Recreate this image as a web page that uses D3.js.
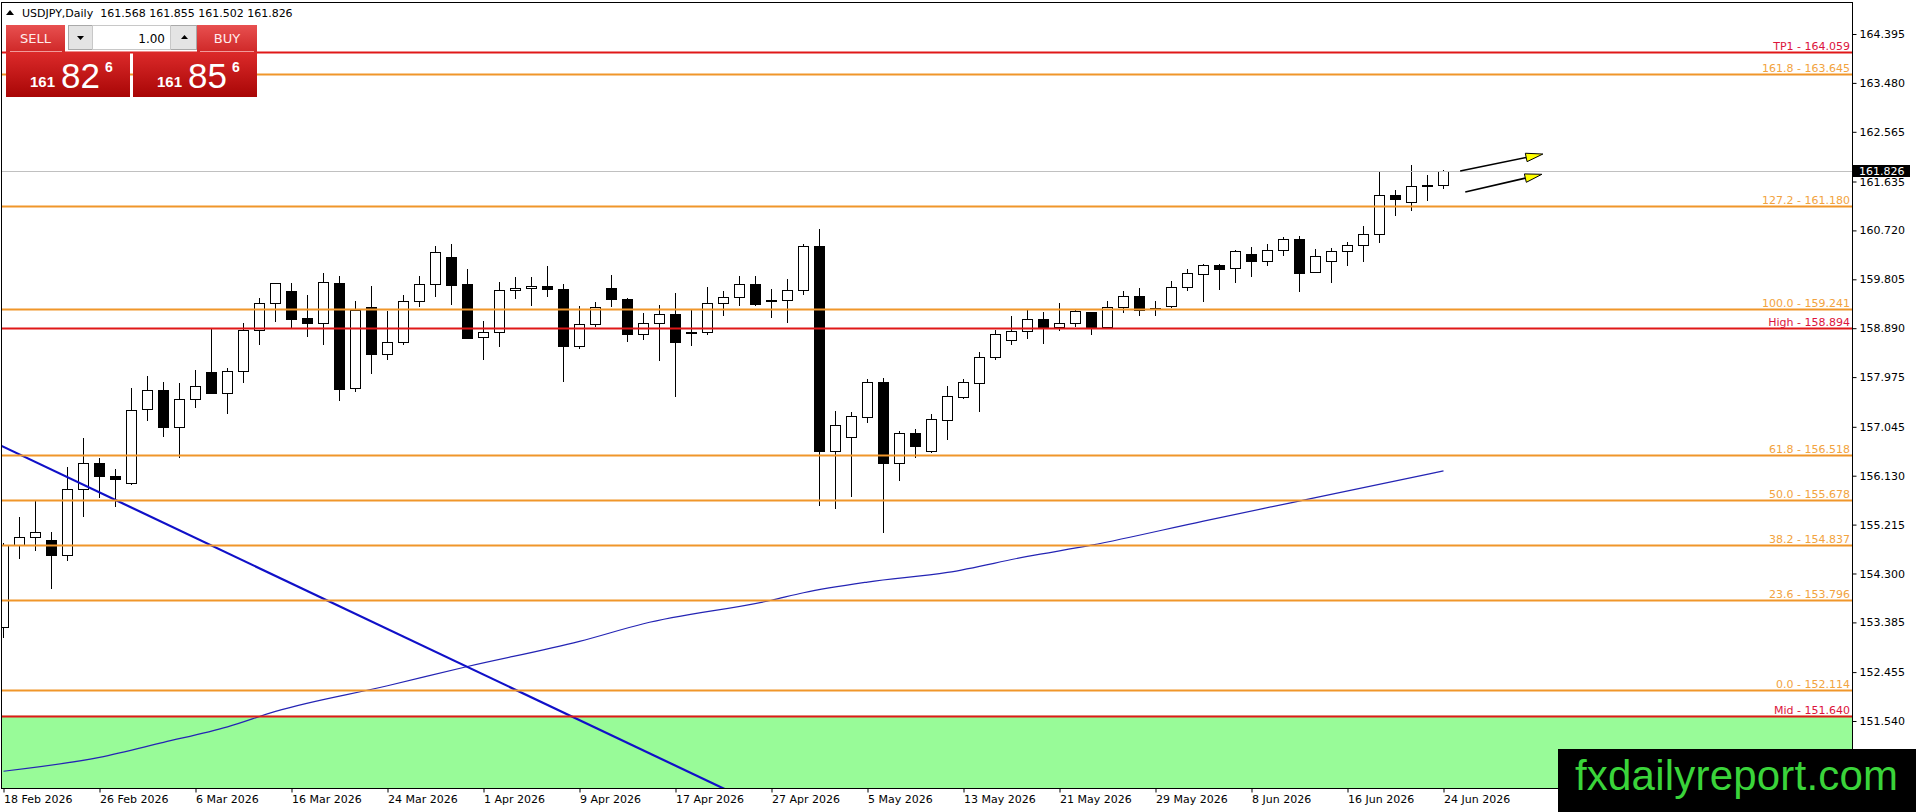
<!DOCTYPE html>
<html>
<head>
<meta charset="utf-8">
<script src="https://cdn.jsdelivr.net/npm/d3@7"></script>
<style>
  body{margin:0;background:#fff;}
  svg{display:block;font-family:"DejaVu Sans",sans-serif;}
</style>
</head>
<body>
<svg id="chart" width="1916" height="812"></svg>
<script>
/*
  USDJPY daily candles, 18 Feb - 24 Jun 2026
*/
var opens  = [153.29,154.83,154.99,154.93,154.65,155.89,156.36,156.13,156.00,157.37,157.73,157.05,157.56,158.07,157.67,158.08,158.85,159.36,159.59,159.08,
              158.98,159.74,157.78,159.28,158.40,158.64,159.39,159.71,160.22,159.72,158.72,158.81,159.60,159.64,159.68,159.62,158.56,158.96,159.65,159.43,
              158.78,158.98,159.15,158.81,158.81,159.37,159.47,159.71,159.42,159.42,159.60,160.43,156.60,156.86,157.23,157.88,156.37,156.92,156.60,157.18,
              157.61,157.86,158.36,158.66,158.83,159.07,158.92,158.98,159.19,158.92,159.29,159.50,159.27,159.30,159.66,159.90,160.07,160.01,160.28,160.15,
              160.35,160.56,159.94,160.14,160.33,160.44,160.65,161.38,161.26,161.56,161.568];
var highs  = [154.87,155.35,155.66,155.07,156.29,156.84,156.46,156.25,157.77,158.00,157.88,157.86,158.11,158.87,158.14,158.99,159.45,159.74,159.74,159.51,
              159.93,159.87,159.40,159.68,159.22,159.51,159.87,160.43,160.47,160.00,159.03,159.75,159.84,159.84,160.05,159.72,159.31,159.38,159.89,159.45,
              159.17,159.32,159.54,159.23,159.66,159.59,159.87,159.87,159.62,159.81,160.47,160.75,157.34,157.32,157.94,157.95,156.97,157.00,157.28,157.80,
              157.94,158.44,158.86,159.11,159.24,159.19,159.36,159.23,159.19,159.39,159.59,159.65,159.39,159.77,160.00,160.10,160.09,160.35,160.41,160.46,
              160.59,160.62,160.38,160.40,160.50,160.80,161.83,161.48,161.94,161.76,161.855];
var lows   = [153.09,154.57,154.73,154.01,154.54,155.36,155.71,155.55,155.96,157.16,156.86,156.47,157.40,157.65,157.29,157.87,158.58,159.01,158.87,158.73,
              158.58,157.52,157.70,158.04,158.29,158.58,159.29,159.47,159.33,158.68,158.29,158.54,159.44,159.31,159.48,157.89,158.51,158.91,159.29,158.63,
              158.66,158.28,157.61,158.56,158.76,159.11,159.31,159.31,159.09,158.98,159.52,155.57,155.51,155.74,157.11,155.06,156.04,156.46,156.55,156.79,
              157.57,157.33,158.30,158.58,158.69,158.60,158.83,158.92,158.77,158.92,159.17,159.12,159.11,159.26,159.59,159.38,159.61,159.74,159.85,160.05,
              160.25,159.56,159.92,159.74,160.05,160.12,160.49,160.99,161.09,161.27,161.502];
var closes = [154.83,154.99,155.07,154.65,155.89,156.36,156.13,156.06,157.36,157.73,157.05,157.57,157.80,157.67,158.08,158.85,159.36,159.73,159.07,158.98,
              159.75,157.76,159.23,158.40,158.64,159.40,159.72,160.31,159.70,158.71,158.81,159.60,159.65,159.68,159.62,158.56,158.96,159.29,159.44,158.78,
              158.98,159.15,158.64,158.80,159.37,159.47,159.71,159.34,159.41,159.60,160.43,156.60,157.07,157.24,157.88,156.37,156.92,156.69,157.20,157.62,
              157.88,158.36,158.78,158.83,159.07,158.92,158.98,159.21,158.92,159.29,159.50,159.23,159.24,159.66,159.92,160.07,160.00,160.33,160.15,160.35,
              160.56,159.93,160.24,160.33,160.44,160.65,161.38,161.30,161.56,161.57,161.826];

var dateLabels = ["18 Feb 2026","26 Feb 2026","6 Mar 2026","16 Mar 2026","24 Mar 2026","1 Apr 2026","9 Apr 2026","17 Apr 2026",
                  "27 Apr 2026","5 May 2026","13 May 2026","21 May 2026","29 May 2026","8 Jun 2026","16 Jun 2026","24 Jun 2026"];
var priceTicks = [164.395,163.480,162.565,161.635,160.720,159.805,158.890,157.975,157.045,156.130,155.215,154.300,153.385,152.455,151.540];

// fibo expansion + pivot levels
var levelNames  = ["TP1","161.8","127.2","100.0","High","61.8","50.0","38.2","23.6","0.0","Mid"];
var levelValues = [164.059,163.645,161.180,159.241,158.894,156.518,155.678,154.837,153.796,152.114,151.640];
var levelIsRed  = [true,false,false,false,true,false,false,false,false,false,true];

// moving average, read at these bars
var maBars   = [0,6,10,14,17,24,29,36,40,48,50,54,59,64,68,75,82,90];
var maValues = [150.60,150.86,151.14,151.43,151.72,152.20,152.56,153.03,153.36,153.80,153.94,154.14,154.32,154.62,154.83,155.28,155.72,156.22];

// falling trend line (two anchors)
var trendBars   = [0,44];
var trendValues = [156.67,150.42];

// drawn arrows: [bar, price]
var arrowFrom = [[91.04,161.831],[91.36,161.438]];
var arrowTo   = [[96.21,162.149],[96.15,161.770]];

var lastPrice = 161.826;
var headerText = "USDJPY,Daily  161.568 161.855 161.502 161.826";

var L = 2, T = 2, R = 1852, B = 788;

var svg = d3.select("#chart");
var defs = svg.append("defs");

var x = d3.scaleLinear().domain([0, 90]).range([3.5, 1443.5]);
var y = d3.scaleLinear().domain([151.540, 164.395]).range([721, 34]);

defs.append("clipPath").attr("id", "plot")
  .append("rect").attr("x", L).attr("y", T).attr("width", R - L).attr("height", B - T);

var plot = svg.append("g").attr("clip-path", "url(#plot)");

//Green zone below Mid
var midY = y(levelValues[10]);
plot.append("rect")
  .attr("x", L).attr("y", midY).attr("width", R - L).attr("height", B - midY)
  .attr("fill", "#98fb98");

//Candles
var bars = d3.range(opens.length).map(function(i){
  return {i: i, o: opens[i], h: highs[i], l: lows[i], c: closes[i]};
});

var candle = plot.append("g").attr("shape-rendering", "crispEdges")
  .selectAll("g").data(bars).enter().append("g");

candle.append("line")
  .attr("x1", function(d){ return x(d.i); })
  .attr("x2", function(d){ return x(d.i); })
  .attr("y1", function(d){ return Math.round(y(d.h)); })
  .attr("y2", function(d){ return Math.round(y(d.l)); })
  .attr("stroke", "#000");

candle.append("rect")
  .attr("x", function(d){ return Math.round(x(d.i) - 5.5) + 0.5; })
  .attr("y", function(d){ return Math.round(y(Math.max(d.o, d.c))) + 0.5; })
  .attr("width", 10)
  .attr("height", function(d){
    var h = Math.round(y(Math.min(d.o, d.c))) - Math.round(y(Math.max(d.o, d.c)));
    return Math.max(h, 1);
  })
  .attr("fill", function(d){ return d.c >= d.o ? "#fff" : "#000"; })
  .attr("stroke", "#000");

//Moving average
var maLine = d3.line()
  .x(function(d){ return x(d[0]); })
  .y(function(d){ return y(d[1]); })
  .curve(d3.curveMonotoneX);

plot.append("path")
  .datum(d3.zip(maBars, maValues))
  .attr("d", maLine)
  .attr("fill", "none")
  .attr("stroke", "#2424b4")
  .attr("stroke-width", 1.2);

//Trend line, extended past its anchors
var slope = (trendValues[1] - trendValues[0]) / (trendBars[1] - trendBars[0]);
var tStart = -1, tEnd = 60;
plot.append("line")
  .attr("x1", x(tStart)).attr("y1", y(trendValues[0] + slope * (tStart - trendBars[0])))
  .attr("x2", x(tEnd)).attr("y2", y(trendValues[0] + slope * (tEnd - trendBars[0])))
  .attr("stroke", "#1010c8")
  .attr("stroke-width", 2.2);

//Current price line
plot.append("line")
  .attr("x1", L).attr("x2", R)
  .attr("y1", Math.round(y(lastPrice)) + 0.5).attr("y2", Math.round(y(lastPrice)) + 0.5)
  .attr("stroke", "#c0c0c0");

//Levels
levelValues.forEach(function(v, k){
  var ly = Math.round(y(v)) + 0.5;
  plot.append("line")
    .attr("x1", L).attr("x2", R).attr("y1", ly).attr("y2", ly)
    .attr("stroke", levelIsRed[k] ? "#e01818" : "#f0962a")
    .attr("stroke-width", 2);
  plot.append("text")
    .attr("x", R - 2).attr("y", ly - 2.5)
    .attr("text-anchor", "end")
    .attr("font-size", 11)
    .attr("fill", levelIsRed[k] ? "#dc143c" : "#f2a33e")
    .text(levelNames[k] + " - " + v.toFixed(3));
});

//Arrows
arrowFrom.forEach(function(a, k){
  var x0 = x(a[0]), y0 = y(a[1]), x1 = x(arrowTo[k][0]), y1 = y(arrowTo[k][1]);
  var len = Math.sqrt((x1 - x0) * (x1 - x0) + (y1 - y0) * (y1 - y0));
  var ux = (x1 - x0) / len, uy = (y1 - y0) / len;
  var bx = x1 - ux * 17, by = y1 - uy * 17;
  plot.append("line")
    .attr("x1", x0).attr("y1", y0).attr("x2", bx).attr("y2", by)
    .attr("stroke", "#000").attr("stroke-width", 1.6);
  plot.append("polygon")
    .attr("points", [[x1, y1], [bx - uy * 4.3, by + ux * 4.3], [bx + uy * 4.3, by - ux * 4.3]].join(" "))
    .attr("fill", "#ffff00").attr("stroke", "#000").attr("stroke-width", 1);
});

//Frame
svg.append("rect")
  .attr("x", 1.5).attr("y", 2.5).attr("width", R - 1.5 + 0.5).attr("height", B - 2)
  .attr("fill", "none").attr("stroke", "#000");

//Price axis
var yAxis = d3.axisRight(y).tickValues(priceTicks).tickFormat(d3.format(".3f")).tickSize(4).tickPadding(3);
var yg = svg.append("g").attr("transform", "translate(" + (R + 0.5) + ",0)").call(yAxis);
yg.select(".domain").remove();
yg.attr("font-family", null).attr("font-size", 11);
yg.selectAll("text").attr("fill", "#000");

//Date axis
var xAxis = d3.axisBottom(x).tickValues(d3.range(0, 91, 6))
  .tickFormat(function(d, k){ return dateLabels[k]; })
  .tickSize(4).tickPadding(3);
var xg = svg.append("g").attr("transform", "translate(0," + (B + 0.5) + ")").call(xAxis);
xg.select(".domain").remove();
xg.attr("font-family", null).attr("font-size", 11);
xg.selectAll("text").attr("text-anchor", "start").attr("fill", "#000");

//Last price tag
var lpY = Math.round(y(lastPrice));
svg.append("rect").attr("x", R + 1).attr("y", lpY - 6).attr("width", 57).attr("height", 12).attr("fill", "#000");
svg.append("text").attr("x", R + 7).attr("y", lpY).attr("dy", "0.36em")
  .attr("font-size", 11).attr("fill", "#fff").text(lastPrice.toFixed(3));

//Header
svg.append("polygon").attr("points", "6,15 14,15 10,10").attr("fill", "#000");
svg.append("text").attr("x", 22).attr("y", 17).attr("font-size", 11).attr("fill", "#000")
  .attr("xml:space", "preserve").style("white-space", "pre").text(headerText);

//One-click trading panel
var g1 = defs.append("linearGradient").attr("id", "btnGrad").attr("x1", 0).attr("y1", 0).attr("x2", 0).attr("y2", 1);
g1.append("stop").attr("offset", "0%").attr("stop-color", "#e85050");
g1.append("stop").attr("offset", "100%").attr("stop-color", "#cf2828");
var g2 = defs.append("linearGradient").attr("id", "priceGrad").attr("x1", 0).attr("y1", 0).attr("x2", 0).attr("y2", 1);
g2.append("stop").attr("offset", "0%").attr("stop-color", "#dc2a2a");
g2.append("stop").attr("offset", "100%").attr("stop-color", "#a80606");

var panel = svg.append("g");
panel.append("rect").attr("x", 6).attr("y", 25).attr("width", 59).attr("height", 27).attr("fill", "url(#btnGrad)");
panel.append("rect").attr("x", 197).attr("y", 25).attr("width", 60).attr("height", 27).attr("fill", "url(#btnGrad)");
panel.append("line").attr("x1", 10).attr("x2", 62).attr("y1", 51.5).attr("y2", 51.5).attr("stroke", "#f19a9a");
panel.append("line").attr("x1", 200).attr("x2", 254).attr("y1", 51.5).attr("y2", 51.5).attr("stroke", "#f19a9a");
panel.append("text").attr("x", 35.5).attr("y", 43).attr("text-anchor", "middle").attr("font-size", 13).attr("fill", "#ffecec").text("SELL");
panel.append("text").attr("x", 227).attr("y", 43).attr("text-anchor", "middle").attr("font-size", 13).attr("fill", "#ffecec").text("BUY");

panel.append("rect").attr("x", 68.5).attr("y", 25.5).attr("width", 128).attr("height", 24).attr("fill", "#e4e4e4").attr("stroke", "#a9a9a9");
panel.append("rect").attr("x", 92.5).attr("y", 25.5).attr("width", 78).attr("height", 24).attr("fill", "#fff").attr("stroke", "#c8c8c8");
panel.append("polygon").attr("points", "77,36 84,36 80.5,40").attr("fill", "#000");
panel.append("polygon").attr("points", "181,39 188,39 184.5,35").attr("fill", "#000");
panel.append("text").attr("x", 165).attr("y", 43).attr("text-anchor", "end").attr("font-size", 12).attr("fill", "#000").text("1.00");

[[6, "161", "82", "6"], [133, "161", "85", "6"]].forEach(function(p){
  var bx = p[0];
  panel.append("rect").attr("x", bx).attr("y", 52).attr("width", 124).attr("height", 45).attr("fill", "url(#priceGrad)");
  panel.append("text").attr("x", bx + 24).attr("y", 87).attr("font-family", "Liberation Sans")
    .attr("font-weight", "bold").attr("font-size", 15).attr("fill", "#fff").text(p[1]);
  panel.append("text").attr("x", bx + 55).attr("y", 88).attr("font-family", "Liberation Sans")
    .attr("font-size", 35).attr("fill", "#fff").text(p[2]);
  panel.append("text").attr("x", bx + 99).attr("y", 72).attr("font-family", "Liberation Sans")
    .attr("font-size", 14).attr("font-weight", "bold").attr("fill", "#fff").text(p[3]);
});

//Watermark
svg.append("rect").attr("x", 1558).attr("y", 749).attr("width", 358).attr("height", 63).attr("fill", "#000");
svg.append("text").attr("x", 1575).attr("y", 790).attr("font-family", "Liberation Sans")
  .attr("font-size", 42).attr("fill", "#3ad43a").attr("textLength", 323).text("fxdailyreport.com");
</script>
</body>
</html>
